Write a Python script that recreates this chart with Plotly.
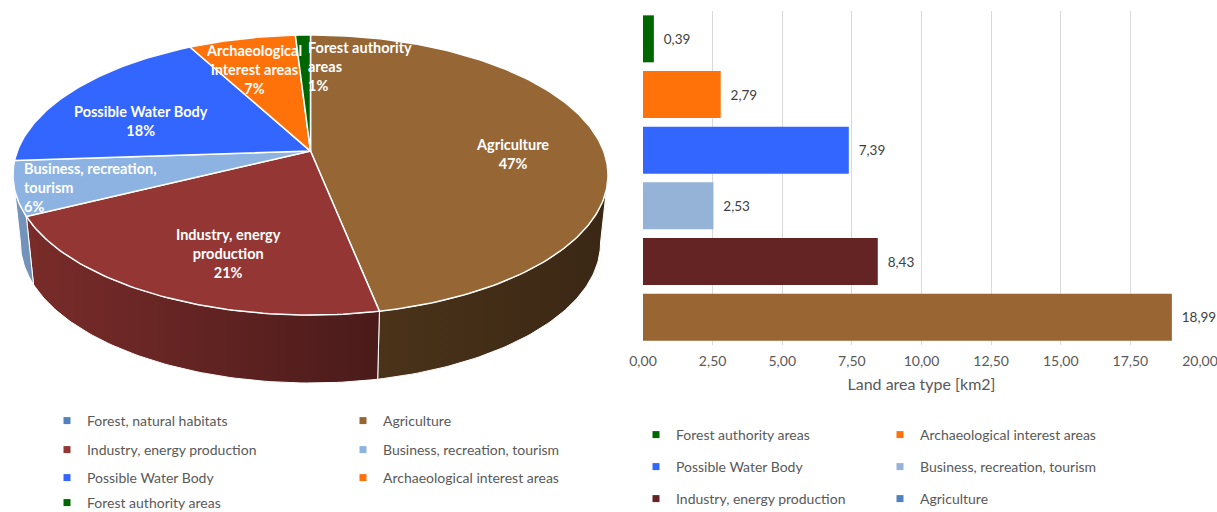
import numpy as np
import plotly.graph_objects as go

# ---------------- data ----------------
categories = ["Forest, natural habitats", "Agriculture", "Industry, energy production",
              "Business, recreation, tourism", "Possible Water Body",
              "Archaeological interest areas", "Forest authority areas"]
areas_km2 = [0.0, 18.99, 8.43, 2.53, 7.39, 2.79, 0.39]
pie_labels = ["Forest, natural<br>habitats", "Agriculture", "Industry, energy<br>production",
              "Business, recreation,<br>tourism", "Possible Water Body",
              "Archaeological<br>interest areas", "Forest authority<br>areas"]
pie_colors = ["#4F81BD", "#966634", "#943634", "#8DB3E2", "#3366FF", "#FF7109", "#006600"]

bar_categories = ["Forest authority areas", "Archaeological interest areas", "Possible Water Body",
                  "Business, recreation, tourism", "Industry, energy production", "Agriculture"]
bar_values = [0.39, 2.79, 7.39, 2.53, 8.43, 18.99]
bar_colors = ["#006600", "#FF7109", "#3366FF", "#95B3D7", "#632423", "#996633"]
bar_legend_colors = ["#006600", "#FF7109", "#3366FF", "#95B3D7", "#632423", "#4F81BD"]
x_ticks = [0, 2.5, 5, 7.5, 10, 12.5, 15, 17.5, 20]
x_title = "Land area type [km2]"

# ---------------- geometry / style ----------------
W, H = 1217, 512
FONT = "Lato, 'Open Sans', sans-serif"
GRAY = "#595959"
CX, CY, A, B = 310.5, 175.0, 297.5, 140.0          # top ellipse
CY_BOT, A_BOT, B_BOT = 243.0, 290.0, 140.0          # bottom ellipse
S = 0.171                                           # perspective shift
label_r = {1: 0.70, 2: 0.58, 3: 0.75, 4: 0.70, 5: 0.80, 6: 0.80}
label_dy = {1: 12, 2: 25, 3: 9, 4: 13, 5: 11, 6: 11}


def proj(X, Z, top=True):
    d = 1 + S * Z
    xp = X * np.sqrt(1 - S ** 2) / d
    zp = (Z + S) / d
    if top:
        return CX + A * xp, CY - B * zp
    return CX + A_BOT * xp, CY_BOT - B_BOT * zp


def hex2rgb(h):
    h = h.lstrip("#")
    return tuple(int(h[i:i + 2], 16) for i in (0, 2, 4))


def shade(h, f):
    r, g, b = hex2rgb(h)
    return "rgb(%d,%d,%d)" % (min(255, r * f), min(255, g * f), min(255, b * f))


def side_factor(t):
    X, Z = np.sin(t), np.cos(t)
    st = X * np.sqrt(1 - S ** 2) / (1 + S * Z)
    return min(0.61 - 0.22 * st, 0.50) if st > 0 else 0.61 - 0.22 * st


fig = go.Figure()

total = sum(areas_km2)
fr = np.array(areas_km2) / total
ends = np.cumsum(fr) * 2 * np.pi
starts = ends - fr * 2 * np.pi

vis_lo = np.arccos(-S)
vis_hi = 2 * np.pi - np.arccos(-S)

# side faces
for i, (t1, t2) in enumerate(zip(starts, ends)):
    if fr[i] <= 0:
        continue
    lo, hi = max(t1, vis_lo), min(t2, vis_hi)
    if hi <= lo:
        continue
    th = np.linspace(lo, hi, max(3, int(np.degrees(hi - lo)) + 2))
    xt, yt = proj(np.sin(th), np.cos(th), True)
    xb, yb = proj(np.sin(th[::-1]), np.cos(th[::-1]), False)
    xs = np.concatenate([xt, xb, xt[:1]])
    ys = np.concatenate([yt, yb, yt[:1]])
    fl, fh = side_factor(lo), side_factor(hi)
    fig.add_trace(go.Scatter(
        x=xs, y=ys, mode="lines", fill="toself",
        fillgradient=dict(type="horizontal",
                          colorscale=[[0, shade(pie_colors[i], max(fl, fh))],
                                      [1, shade(pie_colors[i], min(fl, fh))]]),
        line=dict(color="white", width=1), hoverinfo="skip", showlegend=False,
        xaxis="x", yaxis="y"))

# top faces
vx, vy = proj(0.0, 0.0, True)
for i, (t1, t2) in enumerate(zip(starts, ends)):
    if fr[i] <= 0:
        continue
    th = np.linspace(t1, t2, max(3, int(np.degrees(t2 - t1)) + 2))
    xa, ya = proj(np.sin(th), np.cos(th), True)
    xs = np.concatenate([[vx], xa, [vx]])
    ys = np.concatenate([[vy], ya, [vy]])
    fig.add_trace(go.Scatter(
        x=xs, y=ys, mode="lines", fill="toself", fillcolor=pie_colors[i],
        line=dict(color="white", width=1.5), hoverinfo="text",
        text=categories[i], showlegend=False, xaxis="x", yaxis="y"))

# pie labels
annotations = []
for i, (t1, t2) in enumerate(zip(starts, ends)):
    if fr[i] <= 0:
        continue
    tm = (t1 + t2) / 2
    r = label_r.get(i, 0.7)
    lx, ly = proj(r * np.sin(tm), r * np.cos(tm), True)
    pct = "%d%%" % round(fr[i] * 100)
    xanchor, xshift = "center", 0
    if categories[i] == "Forest authority areas":
        xanchor, xshift = "left", 2
    annotations.append(dict(
        x=lx, y=ly + label_dy.get(i, 12), xref="x", yref="y",
        text="%s<br>%s" % (pie_labels[i], pct),
        showarrow=False, xanchor=xanchor, xshift=xshift, yanchor="middle",
        align="left" if categories[i] in ("Business, recreation, tourism", "Forest authority areas") else "center",
        font=dict(family=FONT, size=14.5, color="white", weight="bold")))

# bars
fig.add_trace(go.Bar(
    y=bar_categories, x=bar_values, orientation="h",
    marker=dict(color=bar_colors, line=dict(width=0)),
    texttemplate="\u00a0\u00a0%{x:.2f}", textposition="outside",
    textfont=dict(family=FONT, size=13.5, color="#404040"),
    cliponaxis=False, constraintext="none", showlegend=False,
    xaxis="x2", yaxis="y2"))

# legends
def legend_entry(name, color, leg):
    fig.add_trace(go.Scatter(
        x=[None], y=[None], mode="markers", name=name, legend=leg,
        marker=dict(symbol="square", size=7, color=color), showlegend=True,
        xaxis="x", yaxis="y"))

pie_rows = [(0, 1), (2, 3), (4, 5), (6,)]
pie_row_y = [421, 450, 478, 503]
bar_rows = [(0, 1), (2, 3), (4, 5)]
bar_row_y = [435, 467, 499]

legend_layouts = {}
k = 0
for row, ry in zip(pie_rows, pie_row_y):
    k += 1
    lid = "legend" if k == 1 else "legend%d" % k
    for idx in row:
        legend_entry(categories[idx], pie_colors[idx], lid)
    legend_layouts[lid] = dict(
        x=(87 - 40) / W, y=1 - ry / H, xanchor="left", yanchor="middle",
        orientation="h", entrywidth=251, entrywidthmode="pixels",
        font=dict(family=FONT, size=14, color=GRAY), bgcolor="rgba(0,0,0,0)",
        itemwidth=30, borderwidth=0)
for row, ry in zip(bar_rows, bar_row_y):
    k += 1
    lid = "legend%d" % k
    for idx in row:
        legend_entry(bar_categories[idx], bar_legend_colors[idx], lid)
    legend_layouts[lid] = dict(
        x=(676 - 40) / W, y=1 - ry / H, xanchor="left", yanchor="middle",
        orientation="h", entrywidth=199, entrywidthmode="pixels",
        font=dict(family=FONT, size=14, color=GRAY), bgcolor="rgba(0,0,0,0)",
        itemwidth=30, borderwidth=0)

fig.update_layout(
    width=W, height=H, margin=dict(l=0, r=0, t=0, b=0, autoexpand=False),
    paper_bgcolor="white", plot_bgcolor="white",
    separators=",.",
    font=dict(family=FONT, color=GRAY),
    showlegend=True,
    xaxis=dict(domain=[0, 620 / W], range=[0, 620], visible=False, fixedrange=True),
    yaxis=dict(domain=[1 - 400 / H, 1], range=[400, 0], visible=False, fixedrange=True),
    xaxis2=dict(domain=[643 / W, 1200 / W], range=[0, 20], anchor="y2",
                tickvals=x_ticks, tickformat=".2f", showgrid=True, gridcolor="#D9D9D9",
                gridwidth=1, zeroline=False, showline=False, ticks="",
                ticklabeloverflow="allow", ticklabelstandoff=6,
                tickfont=dict(family=FONT, size=14, color=GRAY),
                title=dict(text=x_title, font=dict(family=FONT, size=16, color=GRAY), standoff=10)),
    yaxis2=dict(domain=[1 - 345 / H, 1 - 11 / H], anchor="x2", type="category",
                categoryorder="array", categoryarray=bar_categories, autorange="reversed",
                showticklabels=False, showgrid=False, zeroline=False, showline=False),
    bargap=0.156,
    annotations=annotations,
    **legend_layouts,
)

fig.write_html("out.html")
